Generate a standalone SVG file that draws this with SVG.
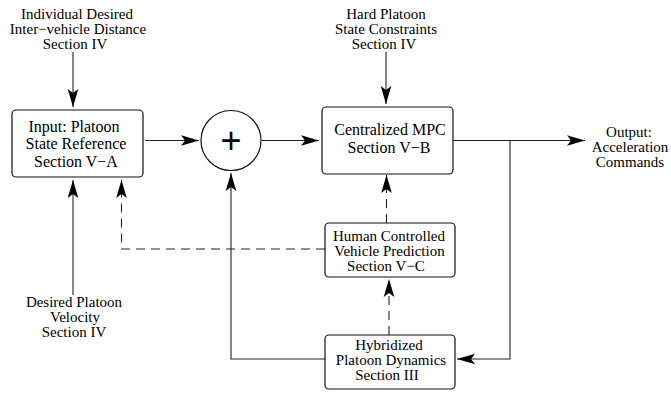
<svg xmlns="http://www.w3.org/2000/svg" width="671" height="393" viewBox="0 0 671 393">
<style>
text{font-family:"Liberation Serif","Times New Roman",serif;font-size:15px;fill:#000;text-anchor:middle}
.big{font-size:16px}
.box{fill:#fff;stroke:#111;stroke-width:1.2}
.ln{fill:none;stroke:#222;stroke-width:1.1;marker-end:url(#ah)}
.dash{stroke-dasharray:9,6}
.plus{font-family:"Liberation Sans",Arial,sans-serif;font-size:36px}
</style>
<defs>
<marker id="ah" markerUnits="userSpaceOnUse" viewBox="-19 -6 20 12" refX="0" refY="0" markerWidth="20" markerHeight="12" orient="auto">
<path d="M0,0 L-18,-5.3 L-14,0 L-18,5.3 Z" fill="#000"/>
</marker>
</defs>
<g id="connectors">
<path class="ln" d="M73,52 L73,107"/>
<path class="ln" d="M145,140.5 L199,140.5"/>
<path class="ln" d="M262,140.5 L319,140.5"/>
<path class="ln" d="M386,52 L386,104"/>
<path class="ln" d="M453,140.5 L585,140.5"/>
<path class="ln" d="M510,140.5 L510,359 L457,359"/>
<path class="ln" d="M325,359 L231,359 L231,173"/>
<path class="ln" d="M73,295 L73,180"/>
<path class="ln dash" d="M325,249 L121.5,249 L121.5,180"/>
<path class="ln dash" d="M389,335 L389,279"/>
<path class="ln dash" d="M386.5,223 L386.5,175"/>
</g>
<g id="label-distance">
<text x="77" y="18.5">Individual Desired</text>
<text x="78" y="33.5">Inter−vehicle Distance</text>
<text x="75" y="48.5">Section IV</text>
</g>
<g id="label-constraints">
<text x="386" y="18.5">Hard Platoon</text>
<text x="386" y="33.5">State Constraints</text>
<text x="384" y="48.5">Section IV</text>
</g>
<g id="label-velocity">
<text x="74" y="307">Desired Platoon</text>
<text x="75" y="322">Velocity</text>
<text x="74" y="337">Section IV</text>
</g>
<g id="label-output">
<text x="629" y="137">Output:</text>
<text x="630" y="152">Acceleration</text>
<text x="630" y="167">Commands</text>
</g>
<g id="input">
<rect class="box" x="12" y="110" width="131" height="67" rx="4"/>
<text class="big" x="74" y="131.5">Input: Platoon</text>
<text class="big" x="76" y="149">State Reference</text>
<text class="big" x="76" y="166.5">Section V−A</text>
</g>
<g id="sum">
<circle class="box" cx="231" cy="140.5" r="30"/>
<text class="plus" x="231" y="153">+</text>
</g>
<g id="mpc">
<rect class="box" x="322" y="107" width="131" height="67" rx="4"/>
<text class="big" x="390" y="135">Centralized MPC</text>
<text class="big" x="389" y="153">Section V−B</text>
</g>
<g id="human">
<rect class="box" x="325" y="223" width="130" height="54" rx="4"/>
<text x="389" y="241">Human Controlled</text>
<text x="389.5" y="256">Vehicle Prediction</text>
<text x="386" y="271">Section V−C</text>
</g>
<g id="hybrid">
<rect class="box" x="325" y="335" width="130" height="54" rx="4"/>
<text x="389" y="350">Hybridized</text>
<text x="391" y="365">Platoon Dynamics</text>
<text x="387" y="380">Section III</text>
</g>
</svg>
